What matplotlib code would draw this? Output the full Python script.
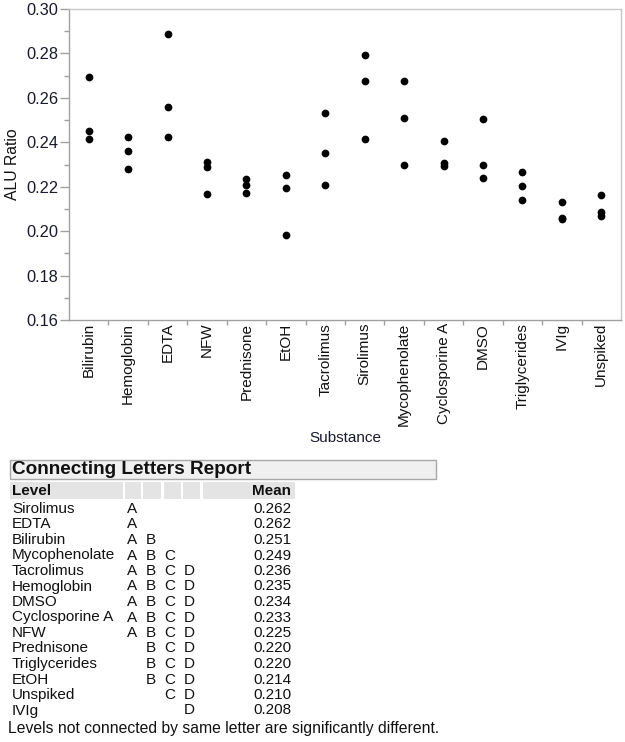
import matplotlib
matplotlib.use("Agg")
import matplotlib.pyplot as plt
from matplotlib.patches import Rectangle
from matplotlib.ticker import MultipleLocator, FixedLocator

plt.rcParams['font.family'] = ['Liberation Sans', 'DejaVu Sans']

substances = ["Bilirubin", "Hemoglobin", "EDTA", "NFW", "Prednisone", "EtOH",
              "Tacrolimus", "Sirolimus", "Mycophenolate", "Cyclosporine A",
              "DMSO", "Triglycerides", "IVIg", "Unspiked"]
alu_ratio = [
    [0.2695, 0.2450, 0.2415],
    [0.2426, 0.2363, 0.2281],
    [0.2886, 0.2557, 0.2426],
    [0.2312, 0.2289, 0.2167],
    [0.2235, 0.2206, 0.2173],
    [0.2254, 0.2195, 0.1982],
    [0.2532, 0.2353, 0.2206],
    [0.2791, 0.2677, 0.2415],
    [0.2677, 0.2511, 0.2299],
    [0.2407, 0.2307, 0.2291],
    [0.2506, 0.2298, 0.2237],
    [0.2267, 0.2201, 0.2140],
    [0.2132, 0.2058, 0.2056],
    [0.2163, 0.2084, 0.2069],
]

levels = ["Sirolimus", "EDTA", "Bilirubin", "Mycophenolate", "Tacrolimus",
          "Hemoglobin", "DMSO", "Cyclosporine A", "NFW", "Prednisone",
          "Triglycerides", "EtOH", "Unspiked", "IVIg"]
letters = ["A", "A", "AB", "ABC", "ABCD", "ABCD", "ABCD", "ABCD", "ABCD",
           "BCD", "BCD", "BCD", "CD", "D"]
means = ["0.262", "0.262", "0.251", "0.249", "0.236", "0.235", "0.234",
         "0.233", "0.225", "0.220", "0.220", "0.214", "0.210", "0.208"]
letter_cols = ["A", "B", "C", "D"]

W, H = 625, 742
fig = plt.figure(figsize=(W / 100, H / 100), dpi=100)


def fx(px):
    return px / W


def fy(py):
    return 1 - py / H


# ---------- scatter plot ----------
ax = fig.add_axes([fx(69), fy(320), (621 - 69) / W, (320 - 9) / H])
xs = [i for i, vals in enumerate(alu_ratio) for _ in vals]
ys = [v for vals in alu_ratio for v in vals]
ax.scatter(xs, ys, s=31, color='black', zorder=3, linewidths=0)

ax.set_xlim(-0.5, len(substances) - 0.5)
ax.set_ylim(0.16, 0.30)
ax.yaxis.set_major_locator(MultipleLocator(0.02))
ax.yaxis.set_minor_locator(MultipleLocator(0.01))
ax.set_yticklabels([f"{t:.2f}" for t in ax.get_yticks()])
ax.set_xticks(range(len(substances)))
ax.set_xticklabels(substances, rotation=90)
ax.xaxis.set_minor_locator(FixedLocator([i + 0.5 for i in range(len(substances) - 1)]))

spine_c = '#a0a0a0'
for s in ax.spines.values():
    s.set_color(spine_c)
    s.set_linewidth(1.0)
ax.spines['top'].set_color('#c8c8c8')
ax.spines['right'].set_color('#c8c8c8')

ax.tick_params(axis='y', which='major', length=6.5, width=1, color=spine_c,
               labelsize=11.8, pad=1, labelcolor='#1a1a2e')
ax.tick_params(axis='y', which='minor', length=3.5, width=1, color=spine_c)
ax.tick_params(axis='x', which='major', length=0, labelsize=11, pad=2,
               labelcolor='#111111')
ax.tick_params(axis='x', which='minor', length=3.5, width=1, color=spine_c)

ax.set_ylabel("ALU Ratio", fontsize=11.3, color='#111111', labelpad=5)
fig.text(fx(345), fy(438), "Substance", fontsize=11, ha='center', va='center',
         color='#1a1a2e')

# ---------- Connecting Letters Report ----------
def rect(x0, y0, x1, y1, fc, ec=None, lw=0):
    fig.patches.append(Rectangle((fx(x0), fy(y1)), fx(x1) - fx(x0), fy(y0) - fy(y1),
                                 transform=fig.transFigure, facecolor=fc,
                                 edgecolor=ec if ec else 'none', linewidth=lw))


rect(10, 460, 436, 479, '#f0f0f0', '#a8a8a8', 1.0)
fig.text(fx(12), fy(469.5), "Connecting Letters Report", fontsize=13.7,
         fontweight='bold', ha='left', va='center', color='#111111')

hdr_cells = [(10, 123), (125, 141), (143, 161), (164, 181), (183, 200), (203, 295)]
for x0, x1 in hdr_cells:
    rect(x0, 482, x1, 499, '#e4e4e4')
fig.text(fx(12), fy(491), "Level", fontsize=11, fontweight='bold', ha='left',
         va='center', color='#111111')
fig.text(fx(291), fy(491), "Mean", fontsize=11, fontweight='bold', ha='right',
         va='center', color='#111111')

col_x = {"A": 132, "B": 151, "C": 170, "D": 189}
row0, step = 509, 15.5
for i, (lev, let, m) in enumerate(zip(levels, letters, means)):
    yy = fy(row0 + i * step)
    fig.text(fx(12), yy, lev, fontsize=11, ha='left', va='center', color='#111111')
    for c in letter_cols:
        if c in let:
            fig.text(fx(col_x[c]), yy, c, fontsize=11, ha='center', va='center',
                     color='#111111')
    fig.text(fx(291), yy, m, fontsize=11, ha='right', va='center', color='#111111')

fig.text(fx(8), fy(728), "Levels not connected by same letter are significantly different.",
         fontsize=11.3, ha='left', va='center', color='#111111')

fig.savefig("out.png", dpi=100)
